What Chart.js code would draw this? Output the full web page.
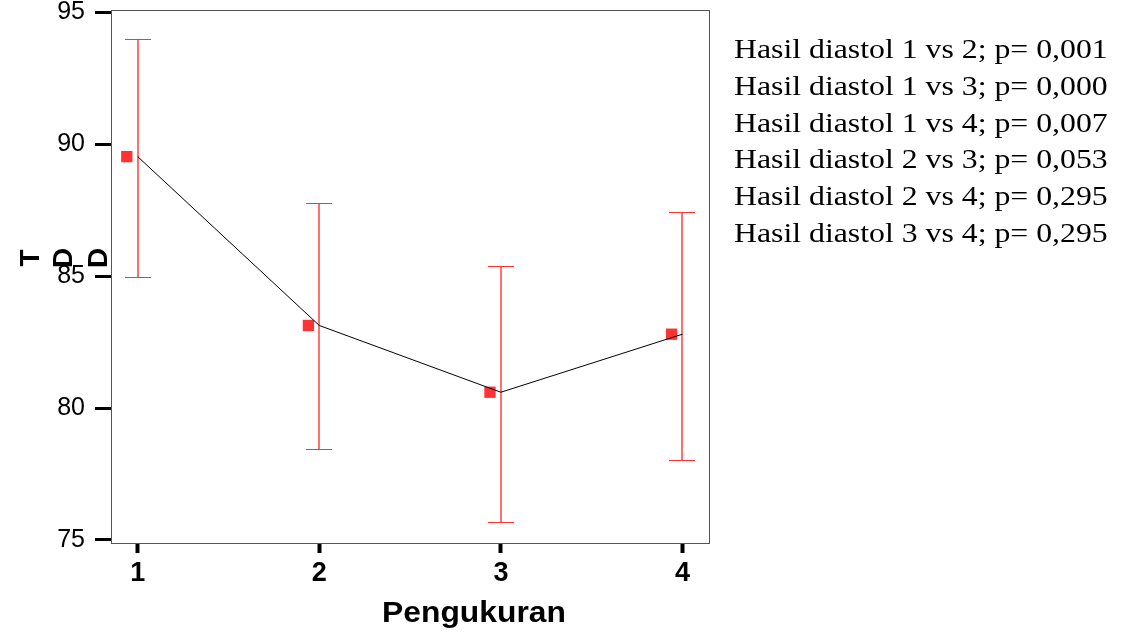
<!DOCTYPE html>
<html>
<head>
<meta charset="utf-8">
<script src="https://cdn.jsdelivr.net/npm/chart.js@4/dist/chart.umd.min.js"></script>
<style>
  html, body { margin: 0; padding: 0; background: #fff; }
  #wrap { position: relative; width: 1121px; height: 635px; }
</style>
</head>
<body>
<div id="wrap"><canvas id="myChart" width="1121" height="635"></canvas></div>
<script>
var pengukuran = [1, 2, 3, 4];
var rerata = [89.53, 83.13, 80.6, 82.8];
var batasAtas = [93.98, 87.79, 85.4, 87.45];
var batasBawah = [84.98, 78.45, 75.68, 78.04];
var yTicks = [75, 80, 85, 90, 95];
var keterangan = [
    'Hasil diastol 1 vs 2; p= 0,001',
    'Hasil diastol 1 vs 3; p= 0,000',
    'Hasil diastol 1 vs 4; p= 0,007',
    'Hasil diastol 2 vs 3; p= 0,053',
    'Hasil diastol 2 vs 4; p= 0,295',
    'Hasil diastol 3 vs 4; p= 0,295'
];
var judulX = 'Pengukuran';
var judulY = 'TDD';

var merah = '#ff3333';
var geserMarker = -0.06; // marker sits a bit left of the tick

var lineData = pengukuran.map(function(p, i){ return {x: p, y: rerata[i]}; });
var markerData = pengukuran.map(function(p, i){ return {x: p + geserMarker, y: rerata[i]}; });

var extras = {
    id: 'extras',
    beforeDatasetsDraw: function(chart){
        var c = chart.ctx, a = chart.chartArea;
        c.save();
        c.strokeStyle = '#555';
        c.lineWidth = 1;
        c.strokeRect(a.left + 0.5, a.top + 0.5, a.right - a.left, a.bottom - a.top);
        // error bars
        var xs = chart.scales.x, ys = chart.scales.y;
        c.strokeStyle = merah;
        for(var i = 0; i < pengukuran.length; i++){
            var px = Math.round(xs.getPixelForValue(pengukuran[i]));
            var t = Math.round(ys.getPixelForValue(batasAtas[i])) + 0.5;
            var b = Math.round(ys.getPixelForValue(batasBawah[i])) + 0.5;
            c.lineWidth = 1.4;
            c.beginPath();
            c.moveTo(px, t); c.lineTo(px, b);
            c.stroke();
            c.lineWidth = 1;
            c.beginPath();
            c.moveTo(px - 13, t); c.lineTo(px + 13, t);
            c.moveTo(px - 13, b); c.lineTo(px + 13, b);
            c.stroke();
        }
        c.restore();
    },
    afterDraw: function(chart){
        var c = chart.ctx;
        c.save();
        c.fillStyle = '#000';
        // x title
        c.font = 'bold 30px "Liberation Sans", Arial, sans-serif';
        c.textAlign = 'center';
        c.textBaseline = 'middle';
        c.save();
        c.translate(474, 614);
        c.scale(1.06, 1);
        c.fillText(judulX, 0, 0);
        c.restore();
        // y title: each letter rotated on its own
        var posX = [31, 64, 99];
        c.font = 'bold 28px "Liberation Sans", Arial, sans-serif';
        for(var i = 0; i < judulY.length; i++){
            c.save();
            c.translate(posX[i], 258);
            c.rotate(-Math.PI / 2);
            c.fillText(judulY[i], 0, 0);
            c.restore();
        }
        // annotation text
        c.font = '28px "Liberation Serif", "Times New Roman", serif';
        c.textAlign = 'left';
        for(var j = 0; j < keterangan.length; j++){
            c.save();
            c.translate(734, 51 + j * 36.7);
            c.scale(1.135, 1);
            c.fillText(keterangan[j], 0, 0);
            c.restore();
        }
        c.restore();
    }
};

var ctx = document.getElementById('myChart').getContext('2d');
var myChart = new Chart(ctx, {
    type: 'line',
    data: {
        datasets: [{
            data: lineData,
            borderColor: '#000',
            borderWidth: 1,
            pointRadius: 0,
            tension: 0,
            fill: false
        }, {
            type: 'scatter',
            data: markerData,
            pointStyle: 'rect',
            pointRadius: 8,
            backgroundColor: merah,
            borderWidth: 0,
            showLine: false
        }]
    },
    options: {
        responsive: false,
        animation: false,
        layout: { padding: { top: 10, right: 412, left: 0, bottom: 0 } },
        plugins: { legend: { display: false }, tooltip: { enabled: false } },
        scales: {
            x: {
                type: 'linear',
                min: 0.853,
                max: 4.146,
                afterBuildTicks: function(s){ s.ticks = pengukuran.map(function(v){ return {value: v}; }); },
                afterFit: function(s){ s.height = 92; s.paddingLeft = 0; s.paddingRight = 0; },
                border: { display: false },
                grid: { drawOnChartArea: false, tickLength: 10, tickWidth: 4, tickColor: '#000' },
                ticks: {
                    color: '#000',
                    padding: 4,
                    maxRotation: 0,
                    font: { family: '"Liberation Sans", Arial, sans-serif', size: 27, weight: 'bold' }
                }
            },
            y: {
                min: 74.886,
                max: 95.087,
                afterBuildTicks: function(s){ s.ticks = yTicks.map(function(v){ return {value: v}; }); },
                afterFit: function(s){ s.width = 111; s.paddingTop = 0; s.paddingBottom = 0; },
                border: { display: false },
                grid: { drawOnChartArea: false, tickLength: 16, tickWidth: 3, tickColor: '#000' },
                ticks: {
                    color: '#000',
                    padding: 10,
                    font: { family: '"Liberation Sans", Arial, sans-serif', size: 25 }
                }
            }
        }
    },
    plugins: [extras]
});
</script>
</body>
</html>
